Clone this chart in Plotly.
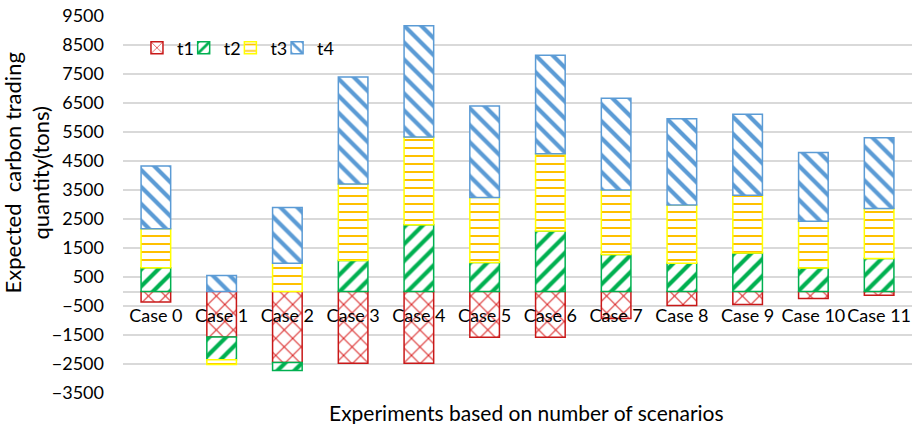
import plotly.graph_objects as go

# Categories and stacked components of expected carbon trading quantity (tons)
cases = [f"Case {i}" for i in range(12)]
t1 = [-360, -1570, -2450, -2470, -2470, -1580, -1580, -930, -480, -450, -240, -130]
t2 = [820, -780, -270, 1070, 2300, 1000, 2090, 1280, 970, 1330, 810, 1140]
t3 = [1340, -170, 970, 2640, 3030, 2240, 2660, 2220, 2010, 1990, 1610, 1720]
t4 = [2170, 550, 1930, 3690, 3830, 3160, 3400, 3160, 2980, 2790, 2370, 2440]

y_ticks = list(range(-3500, 9501, 1000))

FONT = "Lato"

series = [
    ("t1", t1, "#D92020", "#C81818", "x", 12, 0.16),
    ("t2", t2, "#00B050", "#00B050", "/", 12, 0.35),
    ("t3", t3, "#FFC000", "#FFFF00", "-", 8, 0.25),
    ("t4", t4, "#5B9BD5", "#5B9BD5", "\\", 12, 0.35),
]

# one single-entry legend per series so the row spacing can be set directly
legend_ids = ["legend", "legend2", "legend3", "legend4"]
legend_x = [0.0177, 0.0769, 0.1361, 0.1953]

fig = go.Figure()
for (name, vals, fg, line, shape, size, sol), lid in zip(series, legend_ids):
    fig.add_trace(go.Bar(
        x=cases, y=vals, name=name, legend=lid,
        marker=dict(
            color="white",
            line=dict(color=line, width=1.5),
            pattern=dict(shape=shape, fgcolor=fg, bgcolor="white",
                         size=size, solidity=sol, fillmode="replace"),
        ),
    ))

ymin, ymax = -3500, 9500
zero_pos = (0 - ymin) / (ymax - ymin)

legend_common = dict(
    orientation="h", y=0.915, xanchor="left", yanchor="middle",
    font=dict(size=18), bgcolor="rgba(0,0,0,0)", itemwidth=30,
)
legends = {lid: dict(x=lx, **legend_common) for lid, lx in zip(legend_ids, legend_x)}

fig.update_layout(
    barmode="relative",
    bargap=0.55,
    width=914, height=424,
    margin=dict(l=123, r=2, t=16, b=31),
    paper_bgcolor="white", plot_bgcolor="white",
    font=dict(family=FONT, size=18, color="#000000"),
    showlegend=True,
    **legends,
    xaxis=dict(
        anchor="free", position=zero_pos,
        showline=False, showgrid=False, ticks="",
        tickangle=0, ticklabelstandoff=11,
        tickfont=dict(size=18),
    ),
    yaxis=dict(
        range=[ymin, ymax], tickvals=y_ticks,
        showgrid=True, gridcolor="#D9D9D9", gridwidth=1.5,
        zeroline=True, zerolinecolor="#D9D9D9", zerolinewidth=1.5,
        ticks="", ticklabelstandoff=18,
        tickfont=dict(size=18),
    ),
    annotations=[
        dict(text="Expected  carbon trading<br>quantity(tons)",
             xref="paper", yref="paper", x=-0.0837, y=0.585,
             xanchor="right", yanchor="middle", textangle=-90,
             showarrow=False, font=dict(size=22)),
        dict(text="Experiments based on number of scenarios",
             xref="paper", yref="paper", x=0.511, y=-0.014,
             xanchor="center", yanchor="top",
             showarrow=False, font=dict(size=21)),
    ],
)

fig.write_html("out.html")
